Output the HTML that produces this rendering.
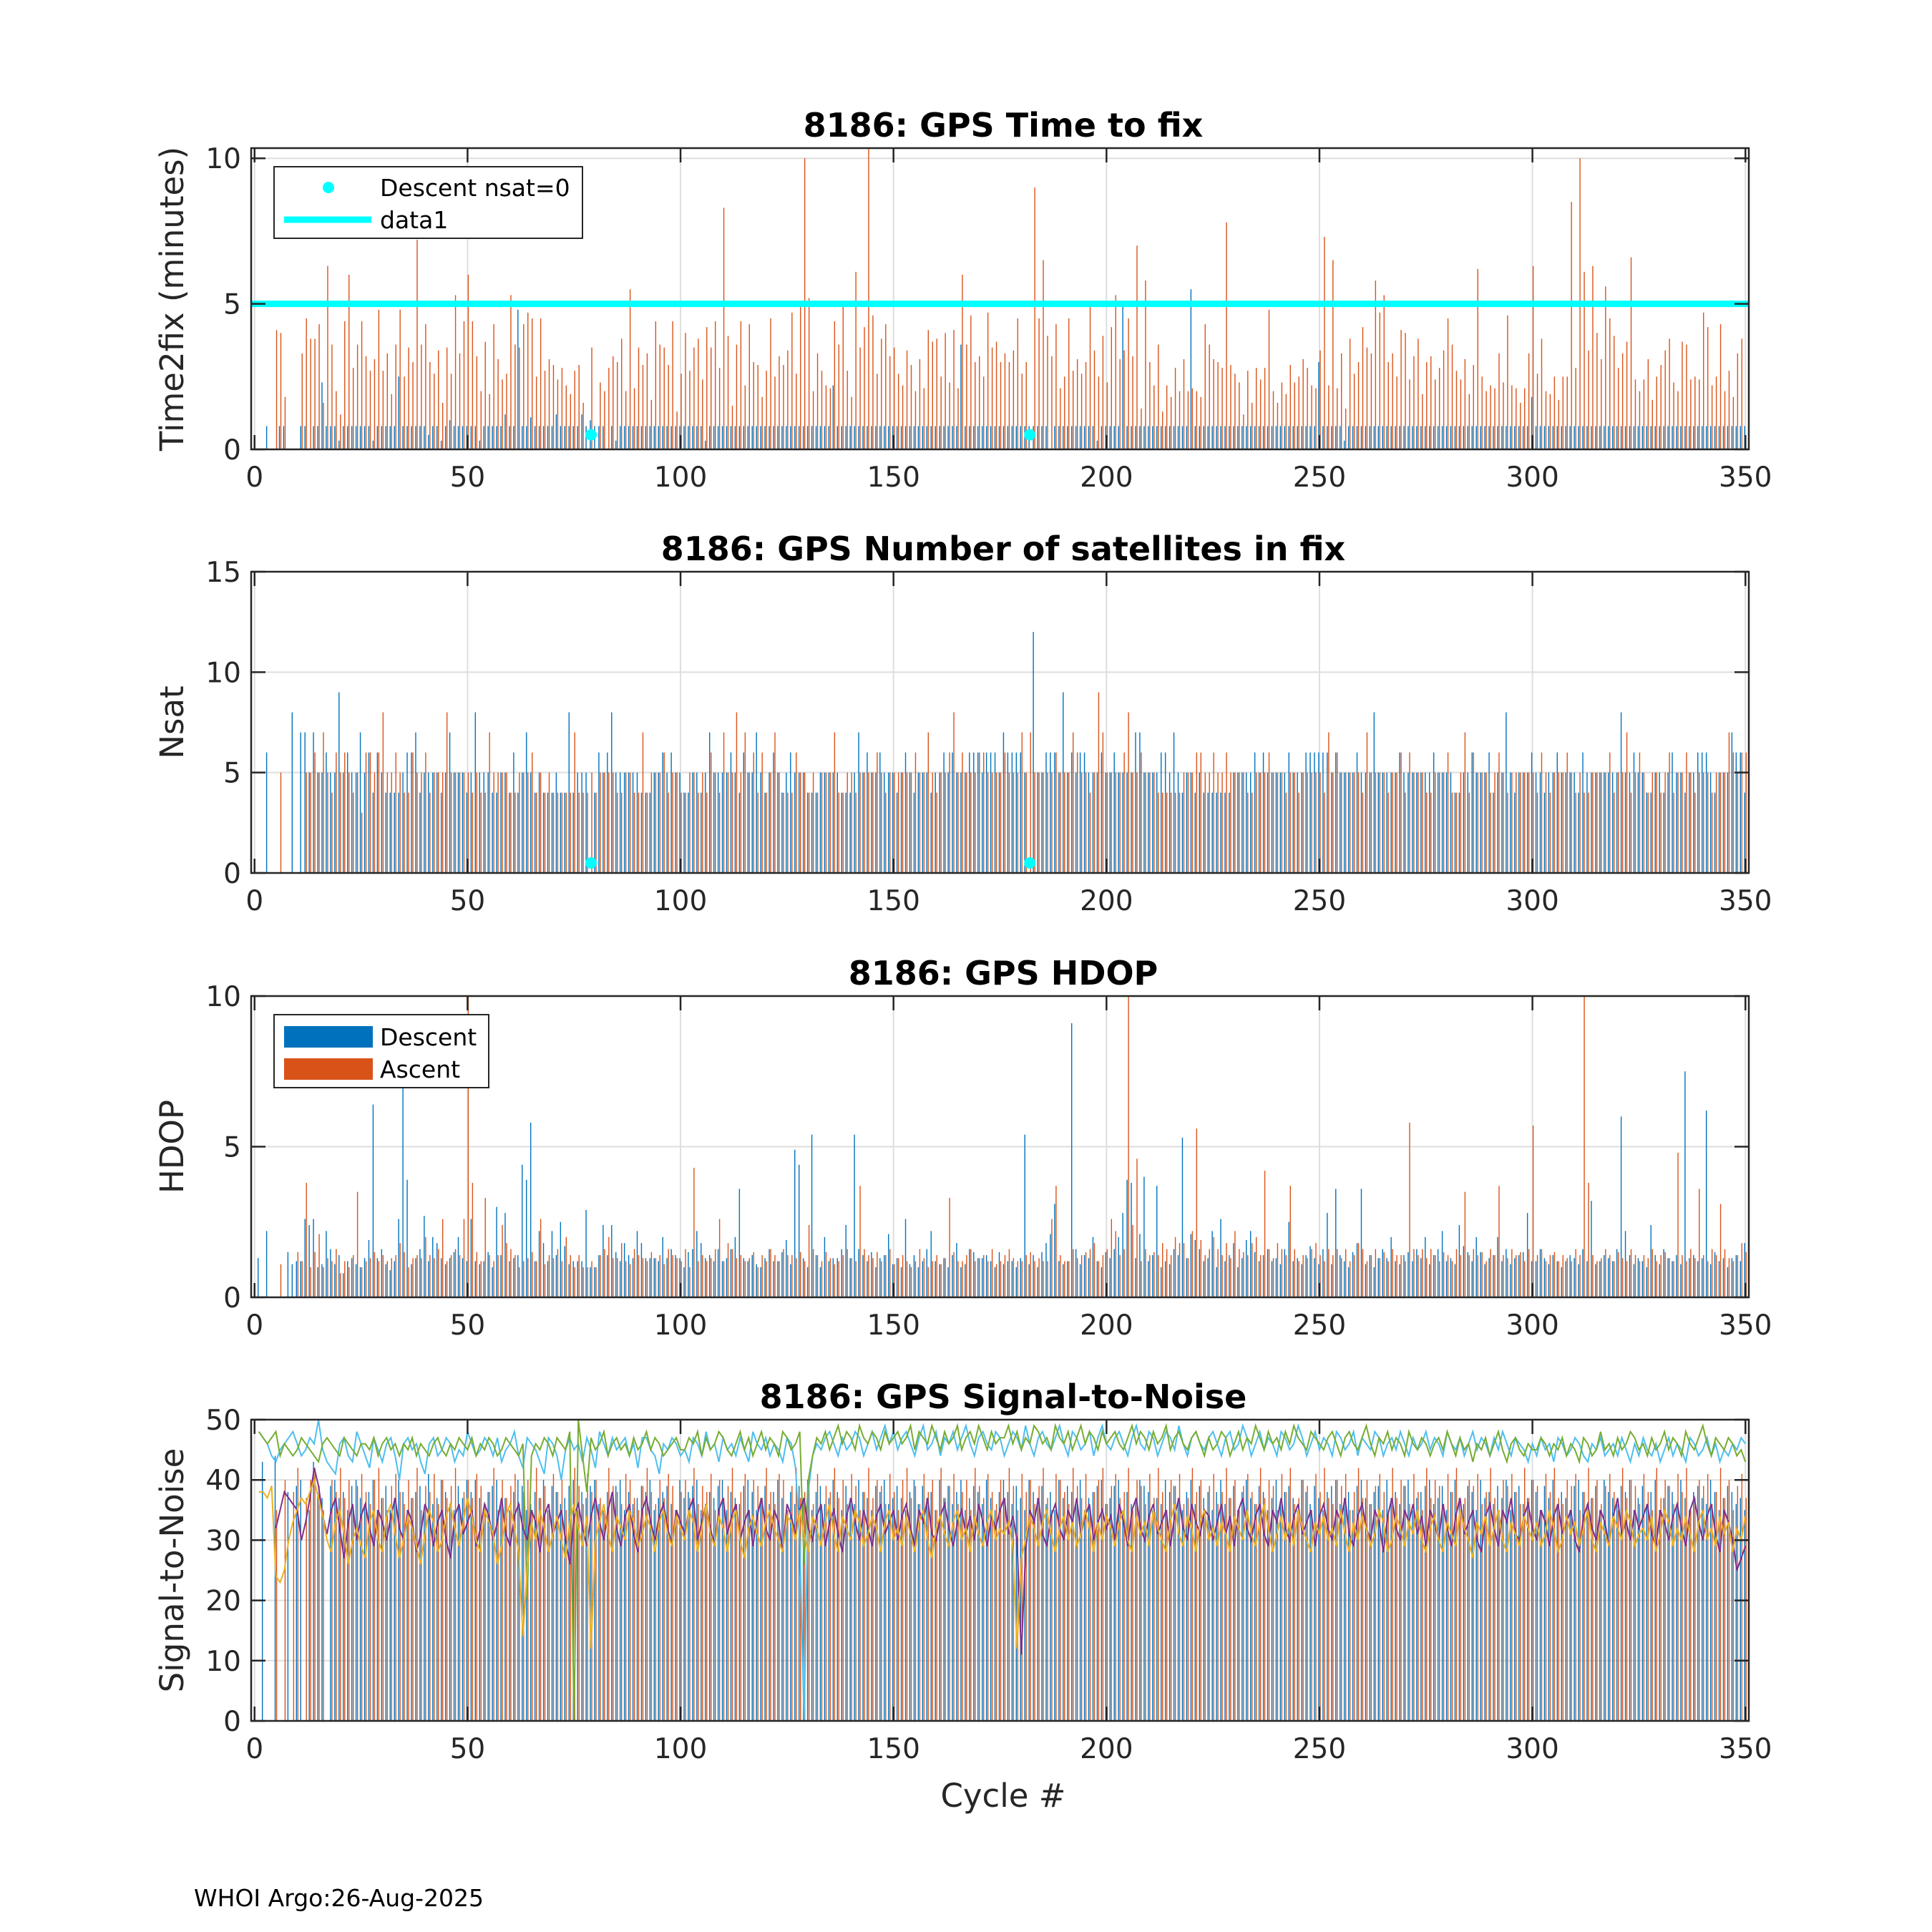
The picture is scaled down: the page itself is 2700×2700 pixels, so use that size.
<!DOCTYPE html>
<html><head><meta charset="utf-8"><title>8186 GPS</title>
<style>html,body{margin:0;padding:0;background:#fff}svg{display:block}text{font-family:"DejaVu Sans","Liberation Sans",sans-serif}</style>
</head><body>
<svg id="chart" width="2700" height="2700" viewBox="0 0 2700 2700" xmlns="http://www.w3.org/2000/svg">
<rect x="0" y="0" width="2700" height="2700" fill="#fff"/>
</svg>
<script>
const cycles = 350;
const xTicks = [0,50,100,150,200,250,300,350];
const t2fTicks = [0,5,10];
const nsatTicks = [0,5,10,15];
const hdopTicks = [0,5,10];
const snrTicks = [0,10,20,30,40,50];
const t2fLimit = [5];
const nsatZeroCycles = [79,182];
const nsatZeroValue = [0.5,0.5];

const t2fDesc = [0,0,0.8,0,0,0.8,0.8,0,0,0,0.8,0.8,0,0.8,0.8,2.3,0.8,0.8,0.8,0.3,0.8,0.8,0.8,0.8,0.8,
0.8,0.8,0.3,0.8,0.8,0.8,0.8,0.8,2.5,0.8,0.8,0.8,0.8,0.8,0.8,0.5,0.8,0.8,0.3,0.8,1.0,0.8,0.8,0.8,0.8,
0.8,0.8,0.3,0.8,0.8,0.8,0.8,0.8,1.2,0.8,0.8,4.8,0.8,0.8,1.1,0.8,0.8,0.8,0.8,0.8,1.2,0.8,0.8,0.8,0.8,
0.8,1.2,0.8,1.0,0.8,0.8,0.8,0,0.8,0.3,0.8,0.8,0.8,0.8,0.8,0.8,0.8,0.8,0.8,0.8,0.8,0.8,0.8,0.8,0.8,
0.8,0.8,0.8,0.8,0.8,0.3,0.8,0.8,0.8,0.8,0.8,0.8,0.8,0.8,0.8,0.8,0.8,0.8,0.8,0.8,0.8,0.8,0.8,0.8,0.8,
0.8,0.8,0.8,0.8,0.8,0.8,0.8,0.8,0.8,0.8,2.2,0.8,0.8,0.8,0.8,0.8,0.8,0.8,0.8,0.8,0.8,0.8,0.8,0.8,0.8,
0.8,0.8,0.8,0.8,0.8,0.8,0.8,0.8,0.8,0.8,0.8,0.8,0.8,0.8,0.8,3.6,0.8,0.8,0.8,0.8,0.8,0.8,0.8,0.8,0.8,
0.8,0.8,0.8,0.8,0.8,0.8,0.8,0.8,0.8,0.8,0.8,0,0.8,0.8,0.8,0.8,0.8,0.8,0.8,0.8,0.8,0.8,0.3,0.8,0.8,
0.8,0.8,0.8,5.0,0.8,0.8,0.8,0.8,0.8,0.8,0.8,0.8,0.8,0.8,0.8,0.8,0.8,0.8,0.8,5.5,0.8,0.8,0.8,0.8,0.8,
0.8,0.8,0.8,0.8,0.8,0.8,0.8,0.8,0.8,0.8,0.8,0.8,0.8,0.8,0.8,0.8,0.8,0.8,0.8,0.8,0.8,0.8,0.8,0.8,3.0,
0.8,0.8,0.8,0.8,0.8,0.3,0.8,0.8,0.8,0.8,0.8,0.8,0.8,0.8,0.8,0.8,0.8,0.8,0.8,0.8,0.8,0.8,0.8,0.8,0.8,
0.8,0.8,0.8,0.8,0.8,0.8,0.8,0.8,0.8,0.8,0.8,0.8,0.8,0.8,0.8,0.8,0.8,0.8,0.8,0.8,0.8,0.8,0.8,0.8,1.8,
0.8,0.8,0.8,0.8,0.8,0.8,0.8,0.8,0.8,0.8,0.8,0.8,0.8,0.8,0.8,0.8,0.8,0.8,0.8,0.8,0.8,0.8,0.8,0.8,0.8,
0.8,0.8,0.8,0.8,0.8,0.8,0.8,0.8,0.8,0.8,0.8,0.8,0.8,0.8,0.8,0.8,0.8,0.8,0.8,0.8,0.8,0.8,0.8,0.8,0.8];

const t2fAsc = [0,0,0,0,4.1,4.0,1.8,0,0,0,3.3,4.5,3.8,3.8,4.3,1.6,6.3,3.6,2.0,1.2,4.4,6.0,2.8,3.6,4.4,
3.2,2.7,3.1,4.8,2.7,3.3,1.9,3.6,4.8,2.5,3.5,3.0,7.2,3.6,4.3,3.0,2.6,3.4,1.6,3.5,2.6,5.3,3.3,4.4,6.0,
4.4,3.2,2.0,3.7,1.9,4.3,3.1,2.4,2.6,5.3,3.6,3.5,4.3,4.7,4.5,2.5,4.5,2.7,3.1,2.9,2.4,2.8,2.2,1.9,2.7,
2.9,1.6,0,3.5,0,2.3,2.0,2.8,3.2,3.0,3.8,2.0,5.5,2.1,3.5,2.9,3.3,1.7,4.4,3.6,3.5,2.9,4.4,1.3,2.6,
4.0,2.7,3.5,3.8,2.4,4.2,3.5,4.4,2.8,8.3,3.9,1.5,3.6,4.4,2.2,4.3,3.0,2.9,1.8,2.7,4.5,2.5,3.2,2.9,3.4,
4.7,2.6,4.9,10.0,5.2,2.0,3.3,2.7,2.2,2.1,4.4,3.6,5.0,2.7,1.8,6.1,3.5,4.2,10.4,4.6,2.6,3.8,4.3,3.2,3.5,
2.6,2.2,3.4,2.9,2.0,3.1,2.1,4.1,3.7,3.8,2.5,4.0,2.3,4.1,2.1,6.0,3.6,4.6,3.0,3.2,2.5,4.7,3.5,3.7,3.0,
3.3,3.0,3.4,4.5,2.6,3.0,0,9.0,4.5,6.5,3.9,3.2,4.3,2.1,2.5,4.5,2.7,3.1,2.6,3.0,5.1,3.4,2.5,3.9,2.3,
4.2,5.3,3.1,3.4,4.5,3.2,7.0,1.4,5.8,3.0,2.2,3.6,1.3,2.2,1.8,2.8,2.0,3.1,2.0,2.1,2.0,1.8,4.3,3.6,3.1,
3.0,2.8,7.8,2.9,2.6,2.3,1.2,2.7,1.6,2.8,2.4,2.8,4.8,2.0,1.6,2.3,1.9,2.9,2.3,2.5,3.1,2.8,2.2,2.1,3.4,
7.3,2.2,6.5,2.1,3.3,1.4,3.8,2.6,3.0,4.2,3.5,3.3,5.8,4.7,5.3,3.0,3.3,2.5,4.1,4.0,2.4,3.2,3.8,1.9,3.0,
3.2,2.4,2.8,3.4,4.5,3.6,2.7,2.4,3.1,1.9,2.9,6.2,2.5,2.0,2.2,2.1,3.3,2.3,4.6,2.2,2.1,1.6,2.1,3.3,6.3,
2.6,3.8,2.0,1.9,2.5,1.7,2.5,2.5,8.5,2.8,10.0,6.1,3.4,6.3,4.0,3.1,5.6,4.5,3.9,2.8,3.3,3.7,6.6,2.4,2.0,
2.4,3.1,1.7,2.5,2.9,3.4,3.8,2.3,2.0,3.7,3.6,2.4,2.5,2.4,4.7,4.2,2.2,2.5,4.3,2.0,2.7,1.8,3.3,3.8,0];

const nsatDesc = [0,0,6,0,0,0,0,0,8,0,7,7,5,7,5,5,6,5,5,9,5,6,5,5,7,
5,6,4,6,5,4,4,4,4,5,6,6,7,4,5,5,5,5,4,5,7,5,5,5,4,
5,8,5,5,5,4,4,5,5,4,6,4,5,7,5,4,5,4,4,4,5,4,4,8,4,
5,5,5,0,4,6,5,6,8,5,5,5,5,5,5,4,4,4,5,5,6,5,6,5,5,
4,4,5,5,4,5,7,5,5,5,5,6,5,4,6,5,5,7,5,4,5,6,5,4,5,
6,5,5,5,4,4,4,5,5,5,5,5,4,4,4,5,7,5,6,5,5,6,5,5,5,
4,5,6,5,4,5,5,5,4,5,5,6,5,6,5,5,5,6,6,6,5,6,6,6,5,
7,6,6,6,6,5,0,12,5,5,6,6,6,5,9,5,6,5,6,6,5,5,5,6,5,
5,6,5,5,5,5,7,7,5,5,5,5,6,6,5,7,5,4,5,5,4,5,4,4,4,
4,4,4,4,5,5,5,5,5,6,5,6,5,5,5,5,5,6,5,5,5,6,6,6,6,
6,6,5,6,5,5,5,5,6,5,5,5,8,5,5,5,5,5,6,5,5,5,5,5,5,
5,6,5,5,5,5,4,4,5,5,6,5,5,5,6,4,5,5,8,5,4,5,5,5,6,
5,5,4,5,5,6,5,5,5,5,4,6,5,5,5,5,5,5,5,5,8,5,5,6,5,
5,4,4,5,5,4,5,6,5,5,4,5,5,6,6,6,5,4,5,5,5,7,6,6,4];

const nsatAsc = [0,0,0,0,0,5,0,0,0,0,0,5,5,6,5,7,5,4,6,5,6,5,4,5,3,
6,6,5,6,8,5,5,6,5,4,4,6,5,5,6,4,5,5,5,8,5,5,5,5,5,
4,5,4,4,7,5,5,5,5,4,4,5,5,5,6,4,5,4,5,4,4,4,4,4,7,
4,4,4,5,4,5,5,5,5,4,4,5,5,4,4,7,4,5,5,5,6,4,5,5,4,
4,5,5,4,5,4,6,5,4,7,5,5,8,5,7,5,6,4,6,4,5,7,5,4,4,
4,6,5,5,4,5,4,5,5,5,7,4,4,5,5,4,5,5,5,5,6,5,4,5,5,
5,5,5,5,6,5,5,7,5,4,5,5,6,8,5,6,5,5,5,6,6,5,5,5,5,
6,5,5,5,7,5,7,5,5,5,5,5,6,5,5,5,7,6,5,5,4,5,9,7,5,
5,5,5,6,8,5,5,6,5,5,5,4,4,4,4,4,4,5,5,5,6,6,5,5,6,
5,5,6,5,5,5,5,4,4,5,5,5,6,5,5,5,4,5,5,4,5,5,5,5,5,
4,7,5,6,5,5,5,5,5,4,7,5,5,5,5,4,5,5,6,4,6,5,5,5,4,
4,5,5,5,6,4,4,5,7,4,6,5,5,5,4,5,6,5,4,5,5,5,5,5,5,
4,6,5,4,5,5,5,6,5,4,5,4,4,5,5,5,5,6,4,5,5,7,4,5,6,
5,4,5,5,4,5,6,4,5,5,6,5,4,5,5,5,4,5,5,5,7,6,5,6,6];

const hdopDesc = [1.3,0,2.2,0,0,0,0,1.5,1.1,1.2,1.2,2.6,2.4,2.6,1.0,1.1,2.2,1.6,1.1,1.4,0.8,1.2,1.3,1.1,1.0,
1.3,1.9,6.4,1.3,1.6,1.1,0.9,1.2,2.6,7.0,3.9,1.1,1.3,1.6,2.7,1.2,2.0,1.8,1.3,1.1,1.3,1.5,2.0,1.3,1.2,
2.6,1.2,1.1,1.2,1.5,1.0,3.0,1.4,2.8,1.2,1.3,1.4,4.4,3.9,5.8,1.2,2.2,1.8,1.2,2.2,1.4,2.5,1.7,1.1,1.2,
1.2,1.2,2.9,1.0,1.0,1.4,2.4,1.4,2.4,1.5,1.2,1.8,1.4,1.3,2.2,1.8,1.3,1.3,1.3,1.2,2.0,1.3,1.6,1.4,1.3,
1.0,1.5,1.6,2.2,1.8,1.3,1.4,1.2,1.6,1.2,1.3,1.6,2.0,3.6,1.3,1.2,1.4,1.1,1.0,1.3,1.6,1.2,1.2,1.5,1.9,
1.1,4.9,4.4,1.3,1.0,5.4,1.4,1.0,2.0,1.2,1.3,1.3,1.6,2.4,1.3,5.4,1.6,1.4,1.2,1.5,1.0,1.3,1.4,2.1,1.1,
1.3,1.0,2.6,1.1,1.4,1.0,1.2,1.6,2.2,1.2,1.1,1.3,1.0,1.4,1.8,1.0,1.1,1.6,1.5,1.3,1.3,1.4,1.2,1.0,1.5,
1.1,1.2,1.2,1.0,1.3,5.4,1.1,1.4,1.0,1.5,1.8,2.1,3.1,1.2,1.1,1.2,9.1,1.6,1.1,1.4,1.3,2.0,1.2,1.0,1.5,
1.3,1.6,2.0,2.8,3.9,3.8,1.3,2.1,4.0,1.2,1.4,3.7,1.0,1.2,1.1,1.6,1.4,5.3,1.3,2.1,1.9,1.6,1.2,1.3,2.2,
1.0,2.6,1.2,1.4,1.8,1.0,1.3,1.9,2.2,1.5,1.2,1.4,1.6,1.2,1.3,1.1,1.6,2.5,1.2,1.3,1.1,1.4,1.7,1.3,1.1,
1.6,2.8,1.1,3.6,1.4,1.2,1.0,1.5,1.8,3.6,1.1,1.4,1.0,1.3,1.6,1.3,2.0,1.2,1.1,1.4,1.5,1.2,1.6,1.3,2.0,
1.1,1.4,1.6,2.2,1.2,1.3,1.1,2.4,1.7,1.5,1.2,2.0,1.5,1.1,1.3,1.4,2.0,1.2,1.6,1.1,1.3,1.4,1.5,2.8,1.2,
1.2,1.6,1.3,1.1,1.4,1.2,1.0,1.2,1.4,1.3,1.1,1.6,1.2,3.2,1.1,1.2,1.4,1.3,1.2,1.6,6.0,2.2,1.4,1.1,1.3,
1.2,1.0,2.4,1.4,1.1,1.6,1.3,1.2,1.4,1.1,7.5,1.3,1.4,1.2,1.3,6.2,1.1,1.5,1.2,1.3,1.0,1.3,1.4,1.2,1.8];

const hdopAsc = [0,0,0,0,0,1.1,0,0,0,1.5,1.2,3.8,1.0,1.5,2.1,1.0,1.3,1.2,1.6,0.8,1.2,1.0,1.4,3.5,1.0,
1.2,1.3,1.5,1.2,1.4,1.2,1.3,1.4,1.8,1.5,1.0,1.3,1.4,1.3,2.0,1.4,1.3,1.6,2.6,1.2,1.4,1.6,1.4,2.6,10.0,
3.8,1.5,1.2,3.3,1.4,1.2,1.4,2.4,1.8,1.6,1.4,1.0,1.2,1.3,1.5,1.2,2.6,1.1,1.4,1.3,1.6,1.2,2.0,1.4,1.0,
1.4,1.0,1.0,1.2,1.0,1.4,1.6,2.0,1.3,1.3,1.8,1.2,1.1,1.6,1.4,1.3,1.2,1.5,1.3,1.4,1.1,1.6,1.4,1.3,1.2,
1.6,1.0,4.3,1.2,1.4,1.2,1.3,1.6,2.6,1.2,1.8,1.6,1.3,1.4,1.2,1.3,1.5,1.0,1.4,1.2,1.6,1.4,1.2,1.6,1.4,
1.4,1.3,1.5,1.2,2.4,1.6,1.4,1.2,1.5,1.3,1.1,1.2,1.4,1.6,1.3,1.2,3.7,1.6,1.4,1.3,1.5,1.2,1.4,1.6,1.1,
1.3,1.4,1.2,1.0,1.2,1.6,1.3,1.0,1.2,1.4,1.1,1.3,3.3,1.5,1.2,1.2,1.4,1.6,1.2,1.3,1.4,1.2,1.6,1.1,1.2,
1.4,1.6,1.3,1.2,1.2,1.4,1.5,1.2,1.3,1.2,1.2,2.6,3.7,1.4,1.2,1.2,1.6,1.3,1.4,1.5,1.6,1.8,1.2,1.4,1.6,
2.6,2.2,1.4,1.6,10.0,2.4,4.6,1.2,1.6,1.4,1.5,1.4,1.8,1.6,1.4,2.0,1.8,1.8,1.3,2.2,5.6,1.9,1.4,1.6,2.0,
1.6,1.4,1.8,1.3,2.2,1.6,1.5,1.4,1.8,2.0,1.4,4.2,1.6,1.3,1.8,1.6,1.4,3.7,1.6,1.2,1.4,1.3,1.6,1.8,1.4,
1.2,1.6,1.4,1.6,1.3,1.6,1.2,1.4,1.8,1.6,1.2,1.4,1.6,1.3,1.5,1.2,1.6,1.4,1.4,1.2,5.8,1.6,1.4,1.6,1.3,
1.6,1.4,1.2,1.5,1.4,1.2,1.6,1.4,3.5,1.4,1.6,1.4,1.5,1.2,1.6,1.4,3.7,1.4,1.3,1.6,1.4,1.5,1.2,1.6,5.7,
1.4,1.6,1.2,1.4,1.5,1.2,1.4,1.3,1.2,1.6,1.4,10.0,3.8,1.4,1.2,1.3,1.6,1.4,1.2,1.5,1.3,1.2,1.6,1.4,1.2,
1.4,1.3,1.6,1.2,1.4,1.5,1.3,1.2,4.8,1.4,1.2,1.6,1.3,3.6,1.4,1.2,1.6,1.4,3.1,1.6,1.3,1.2,1.4,1.8,1.5];

const snrDesc = [0,43,0,0,44,0,0,38,0,39,40,0,35,43,38,37,0,39,40,37,38,35,39,40,37,
36,38,40,35,37,39,35,37,40,38,35,37,38,39,35,41,36,37,40,38,36,35,39,37,40,
38,40,37,35,38,39,40,36,37,35,38,40,39,35,36,38,37,40,35,39,38,36,37,39,40,
35,38,37,39,40,36,35,38,37,39,40,35,38,36,37,39,38,40,35,37,38,39,36,35,40,
37,38,39,40,35,36,38,37,39,40,35,38,37,36,39,40,38,35,37,39,36,38,40,37,35,
38,36,39,37,40,35,38,39,36,37,40,38,35,39,37,36,40,38,37,35,39,38,40,36,37,
39,37,35,38,40,36,39,37,38,35,40,37,39,36,38,40,35,37,39,38,36,40,37,35,38,
40,38,36,39,37,35,40,38,37,39,36,38,35,40,37,39,38,36,40,35,37,38,39,40,36,
37,39,40,35,38,36,37,40,39,38,35,37,36,40,38,39,37,35,38,40,36,39,37,38,35,
38,40,36,37,39,35,38,40,37,36,39,38,35,37,40,36,38,39,37,35,40,38,36,39,37,
35,38,39,40,36,37,38,35,39,40,37,36,38,39,35,40,37,38,36,39,40,35,37,38,39,
40,36,37,39,35,38,40,37,36,39,38,35,40,37,38,36,39,37,40,35,38,39,36,37,40,
38,35,39,37,40,36,38,37,35,39,40,38,36,37,39,35,40,38,37,36,39,38,40,35,37,
39,36,38,40,35,37,39,38,36,40,37,35,38,39,37,36,40,38,35,37,39,38,36,37,35];

const snrAsc = [0,0,0,0,35,0,40,0,38,42,0,37,40,42,39,35,0,40,38,42,37,40,35,39,41,
38,36,40,42,37,35,39,41,38,36,40,37,42,35,39,38,41,36,40,37,39,42,35,38,40,
37,41,39,36,38,42,35,40,37,39,41,36,38,40,35,42,37,39,36,41,38,40,35,37,42,
39,36,41,38,40,37,35,42,39,38,36,41,40,37,35,39,42,38,36,40,37,41,39,35,38,
40,37,42,36,39,38,41,35,40,37,39,42,36,38,41,35,40,39,37,42,38,36,41,40,35,
39,42,37,38,40,36,41,35,39,38,42,37,40,36,41,39,35,38,42,37,40,39,36,41,38,
35,40,42,37,39,36,41,38,40,35,42,37,39,41,36,38,40,35,42,39,37,41,38,36,40,
37,42,39,35,41,38,40,36,39,42,37,35,41,40,38,36,42,39,37,41,35,38,40,42,36,
39,41,37,38,42,35,40,39,36,41,37,42,38,35,40,39,41,36,37,42,38,40,35,39,41,
36,38,42,37,40,35,39,41,38,36,42,37,40,39,35,41,38,42,36,37,40,39,35,41,38,
42,37,36,40,39,41,35,38,42,37,40,36,39,41,38,35,42,37,40,39,36,41,38,35,42,
37,40,39,36,41,38,42,35,37,40,39,41,36,38,42,37,35,40,39,41,38,36,42,37,40,
39,35,41,38,42,37,36,40,39,41,35,38,42,37,40,36,39,41,38,35,42,37,40,39,36,
41,38,35,42,37,40,39,36,41,38,42,35,37,40,39,41,36,38,42,37,40,35,39,41,37];

const snrCyan = [48,47,46,44,43,45,46,47,48,46,44,45,47,46,50,45,43,42,41,46,47,44,43,48,46,
44,42,47,45,43,46,47,44,40,46,47,45,46,43,41,46,47,44,45,47,46,43,45,44,48,
46,44,45,47,46,44,47,43,45,46,48,44,42,47,46,45,43,41,47,46,44,40,45,47,45,
46,43,47,45,42,48,46,44,47,45,46,47,44,46,42,47,47,45,44,41,46,45,47,46,44,
45,43,47,46,44,48,45,46,43,47,45,46,44,47,45,43,48,46,45,47,44,46,45,43,47,
46,42,30,0,38,44,46,45,47,48,46,44,47,45,46,48,47,44,46,48,45,47,49,46,48,
45,47,48,46,44,47,49,45,46,48,44,47,46,48,45,47,49,46,44,47,48,46,45,48,47,
44,46,48,47,45,49,46,44,47,48,46,45,47,49,46,44,48,47,45,46,48,44,47,49,46,
45,47,48,46,44,47,49,46,45,48,47,44,46,48,47,45,49,46,44,47,48,46,45,47,48,
46,44,47,48,45,46,49,47,44,46,48,45,47,46,44,48,47,45,46,49,47,44,46,48,45,
47,46,44,48,47,45,46,48,44,47,46,45,48,47,44,46,47,45,48,46,44,47,45,46,48,
45,47,46,44,48,46,45,47,44,46,48,45,47,46,44,47,45,48,46,44,47,46,45,43,46,
44,47,45,46,43,47,46,44,45,47,46,44,43,46,45,47,44,45,46,44,47,45,43,46,44,
47,45,44,46,43,45,47,44,46,45,43,47,46,44,45,47,44,46,43,45,44,46,45,47,46];

const snrGreen = [48,47,46,47,48,44,46,45,44,45,47,46,45,44,43,46,47,46,45,44,47,46,45,44,46,
46,45,47,44,46,47,45,46,44,46,45,47,44,46,45,44,46,47,45,44,46,45,47,46,45,
47,44,46,45,47,46,44,45,47,46,45,44,46,20,44,46,45,47,46,44,47,46,45,48,0,
50,44,38,47,45,46,48,44,46,47,45,46,44,47,45,46,48,45,47,46,44,45,46,47,45,
45,47,46,48,44,47,45,46,48,47,45,44,46,48,45,47,44,46,48,45,47,46,44,48,47,
45,46,48,26,40,44,47,46,48,45,47,49,46,48,47,45,49,47,46,48,47,45,48,46,47,
48,46,47,49,45,48,47,46,49,47,45,48,46,47,49,45,47,48,46,49,47,45,48,46,47,
47,49,46,48,45,47,46,49,48,46,47,45,49,47,46,48,45,47,49,46,48,47,45,48,46,
47,48,46,45,47,49,46,48,47,45,48,46,47,49,45,47,48,46,45,47,48,46,44,47,45,
46,48,47,44,46,48,45,47,46,49,47,45,48,46,47,45,48,46,49,47,46,45,48,47,46,
45,47,48,46,44,47,48,46,45,47,49,46,44,47,46,48,45,47,46,44,48,46,45,47,46,
44,46,47,45,48,46,44,47,45,46,43,46,45,47,44,46,48,45,43,46,47,45,44,46,45,
45,47,46,44,46,45,47,44,46,45,43,47,46,44,45,48,45,46,44,47,45,46,48,47,45,
46,44,47,45,46,48,45,47,46,44,48,46,45,47,49,46,44,47,46,45,47,46,44,45,43];

const snrPurple = [0,0,0,0,32,35,38,37,36,35,30,33,37,42,39,34,31,35,37,32,27,33,36,30,34,
36,32,29,35,33,30,34,37,32,30,35,33,28,31,36,34,29,33,35,30,27,34,36,31,33,
35,29,32,36,34,30,33,37,31,29,34,36,32,30,35,33,28,34,36,31,33,35,30,26,34,
36,32,29,34,37,33,30,35,38,32,29,34,36,31,28,35,37,33,30,34,36,32,29,35,33,
31,35,37,30,33,36,32,29,35,37,31,34,36,30,33,35,29,34,37,32,30,35,33,28,36,
34,31,35,37,32,30,34,36,29,33,35,31,28,34,37,33,30,35,32,29,34,36,31,33,35,
30,34,36,32,29,35,33,37,31,30,34,36,32,29,33,35,31,34,30,36,33,29,34,32,35,
37,31,34,30,11,28,35,33,37,31,29,34,36,32,30,35,33,37,31,34,36,30,33,35,32,
34,30,36,33,29,35,37,32,30,34,36,31,33,35,29,34,37,32,30,36,33,31,35,34,30,
33,36,31,34,29,35,37,32,30,34,36,31,29,35,33,37,32,30,34,36,31,33,35,29,34,
36,32,30,35,33,37,31,29,34,36,32,30,35,33,28,34,37,32,30,35,33,36,31,34,29,
35,33,30,36,32,29,34,37,31,33,35,30,28,34,36,32,29,35,33,37,31,30,34,36,32,
30,35,33,29,34,36,31,33,35,30,28,34,36,32,30,35,33,29,34,37,31,33,30,35,32,
34,36,31,29,35,33,30,34,36,32,29,35,37,33,30,34,36,31,28,35,33,30,25,27,29];

const snrYellow = [38,38,37,39,24,23,25,30,33,35,37,36,38,40,37,34,30,28,33,35,31,26,30,32,29,
27,33,35,30,28,34,36,31,27,30,34,32,29,26,31,35,33,28,30,34,36,32,29,33,37,
34,30,28,35,33,31,26,29,34,36,32,28,14,25,33,30,35,32,28,31,34,30,27,33,36,
32,29,34,12,30,33,36,31,28,34,32,30,35,33,29,31,34,32,28,33,35,31,29,34,32,
30,35,33,28,32,36,31,29,34,32,28,33,35,30,27,32,34,31,29,33,35,32,30,28,34,
33,30,35,31,28,34,32,29,33,36,31,28,34,32,30,35,33,29,31,34,32,28,33,35,30,
32,29,34,31,28,33,35,30,27,32,34,31,29,33,35,30,32,28,34,31,29,33,35,30,32,
31,33,29,12,27,30,34,32,29,33,35,31,28,32,34,30,33,29,31,35,32,28,33,30,34,
32,29,33,35,30,28,34,31,33,29,35,32,30,28,33,36,31,29,34,32,28,33,35,30,32,
29,33,31,28,34,32,30,35,31,29,33,36,32,28,31,34,30,33,29,35,32,30,28,33,31,
34,30,32,29,35,31,28,33,30,34,32,29,31,35,33,28,30,34,32,29,33,31,35,30,28,
32,34,30,28,33,31,29,35,32,30,27,33,31,34,29,32,35,30,28,33,31,29,34,32,30,
33,29,31,35,32,28,30,34,31,33,29,32,35,30,28,33,31,29,34,32,30,35,33,29,31,
32,30,34,28,31,35,33,29,32,30,34,31,28,33,35,30,32,29,34,31,33,28,32,30,34];

const NS = 'http://www.w3.org/2000/svg';
const svg = document.getElementById('chart');
const X0 = 351, X1 = 2444, XMIN = -0.8, XMAX = 350.8;
const BW = 1.4;
function xs(v){ return X0 + (v - XMIN) / (XMAX - XMIN) * (X1 - X0); }
function mk(tag, attrs, parent){ const e = document.createElementNS(NS, tag); for (const k in attrs) e.setAttribute(k, attrs[k]); (parent||svg).appendChild(e); return e; }

const panels = [
 {key:'time-to-fix', top:207, bot:628, ymax:10.35, ticks:t2fTicks, title:'8186: GPS Time to fix', ylabel:'Time2fix (minutes)', desc:t2fDesc, asc:t2fAsc},
 {key:'nsat', top:799, bot:1220, ymax:15, ticks:nsatTicks, title:'8186: GPS Number of satellites in fix', ylabel:'Nsat', desc:nsatDesc, asc:nsatAsc},
 {key:'hdop', top:1392, bot:1813, ymax:10, ticks:hdopTicks, title:'8186: GPS HDOP', ylabel:'HDOP', desc:hdopDesc, asc:hdopAsc},
 {key:'snr', top:1984, bot:2405, ymax:50, ticks:snrTicks, title:'8186: GPS Signal-to-Noise', ylabel:'Signal-to-Noise', desc:snrDesc, asc:snrAsc}
];

panels.forEach(function(p){
  const g = mk('g', {});
  
  
  const ys = function(v){ return p.bot - v / p.ymax * (p.bot - p.top); };
  p.ys = ys; p.g = g;
  xTicks.forEach(function(t){
    const l = mk('line', {x1:xs(t), x2:xs(t), y1:p.top, y2:p.bot, stroke:'#dedede', 'stroke-width':2}, g);
    
    
  });
  p.ticks.forEach(function(t){
    const l = mk('line', {x1:X0, x2:X1, y1:ys(t), y2:ys(t), stroke:'#dedede', 'stroke-width':2}, g);
    
    
  });
  for (let i = 0; i < p.desc.length; i++) {
    const v = p.desc[i]; if (!v) continue;
    const r = mk('rect', {x:xs(i+1-0.17)-BW/2, y:ys(Math.min(v,p.ymax)), width:BW, height:p.bot-ys(Math.min(v,p.ymax)), fill:'#0072BD'}, g);
    
    
  }
  for (let i = 0; i < p.asc.length; i++) {
    const v = p.asc[i]; if (!v) continue;
    const r = mk('rect', {x:xs(i+1+0.17)-BW/2, y:ys(Math.min(v,p.ymax)), width:BW, height:p.bot-ys(Math.min(v,p.ymax)), fill:'#D95319'}, g);
    
    
  }
});

(function(){
  const p = panels[0];
  const l = mk('line', {x1:X0, x2:X1, y1:p.ys(t2fLimit[0]), y2:p.ys(t2fLimit[0]), stroke:'#00FFFF', 'stroke-width':9}, p.g);
  
  
  [panels[0], panels[1]].forEach(function(q){
    nsatZeroCycles.forEach(function(c, k){
      const d = mk('circle', {cx:xs(c), cy:q.ys(nsatZeroValue[k]), r:8, fill:'#00FFFF'}, q.g);
      
      
    });
  });
})();

(function(){
  const p = panels[3];
  const series = [[snrCyan,'#4DBEEE','snr-line-cyan'],[snrGreen,'#77AC30','snr-line-green'],[snrPurple,'#7E2F8E','snr-line-purple'],[snrYellow,'#EDB120','snr-line-yellow']];
  series.forEach(function(s){
    let pts = [];
    s[0].forEach(function(v,i){ if (v || s[0] === snrCyan || s[0] === snrGreen) pts.push(xs(i+1).toFixed(1)+','+p.ys(v).toFixed(1)); });
    const pl = mk('polyline', {points:pts.join(' '), fill:'none', stroke:s[1], 'stroke-width':2, 'stroke-linejoin':'miter'}, p.g);
    
    
  });
})();

panels.forEach(function(p){
  const fr = mk('rect', {x:X0, y:p.top, width:X1-X0, height:p.bot-p.top, fill:'none', stroke:'#262626', 'stroke-width':2.5});
  
  
  xTicks.forEach(function(t){
    const a = mk('line', {x1:xs(t), x2:xs(t), y1:p.bot, y2:p.bot-20, stroke:'#262626', 'stroke-width':2.5});
    
    
    const b = mk('line', {x1:xs(t), x2:xs(t), y1:p.top, y2:p.top+20, stroke:'#262626', 'stroke-width':2.5});
    
    
    const tx = mk('text', {x:xs(t), y:p.bot+52, 'font-size':39, 'text-anchor':'middle', style:'fill:#262626'});
    tx.textContent = t;
    
    
  });
  p.ticks.forEach(function(t){
    const y = p.ys(t);
    const a = mk('line', {x1:X0, x2:X0+20, y1:y, y2:y, stroke:'#262626', 'stroke-width':2.5});
    
    
    const b = mk('line', {x1:X1, x2:X1-20, y1:y, y2:y, stroke:'#262626', 'stroke-width':2.5});
    
    
    const tx = mk('text', {x:X0-14, y:y+14, 'font-size':39, 'text-anchor':'end', style:'fill:#262626'});
    tx.textContent = t;
    
    
  });
  const ti = mk('text', {x:1402, y:p.top-16, 'font-size':46, 'font-weight':'bold', 'text-anchor':'middle', style:'fill:#000'});
  ti.textContent = p.title;
  
  
  const cy = (p.top + p.bot) / 2;
  const yl = mk('text', {x:0, y:0, 'font-size':45, 'text-anchor':'middle', transform:'translate(256,'+cy+') rotate(-90)', style:'fill:#262626'});
  yl.textContent = p.ylabel;
  
  
});

const xl = mk('text', {x:1402, y:2525, 'font-size':45, 'text-anchor':'middle', style:'fill:#262626'});
xl.textContent = 'Cycle #';


const ft = mk('text', {x:271, y:2664, 'font-size':33, style:'fill:#000'});
ft.textContent = 'WHOI Argo:26-Aug-2025';



const lg1 = mk('g', {});


mk('rect', {x:383, y:233, width:431, height:100, fill:'#fff', stroke:'#262626', 'stroke-width':2}, lg1);
const ld = mk('circle', {cx:459, cy:262, r:8, fill:'#00FFFF'}, lg1);


const lt1 = mk('text', {x:531, y:274, 'font-size':33, style:'fill:#000'}, lg1);
lt1.textContent = 'Descent nsat=0';


const ll = mk('line', {x1:397, x2:519, y1:307, y2:307, stroke:'#00FFFF', 'stroke-width':9}, lg1);


const lt2 = mk('text', {x:531, y:319, 'font-size':33, style:'fill:#000'}, lg1);
lt2.textContent = 'data1';



const lg3 = mk('g', {});


mk('rect', {x:383, y:1418, width:300, height:102, fill:'#fff', stroke:'#262626', 'stroke-width':2}, lg3);
const pb = mk('rect', {x:397, y:1434, width:124, height:30, fill:'#0072BD'}, lg3);


const tb = mk('text', {x:531, y:1461, 'font-size':33, style:'fill:#000'}, lg3);
tb.textContent = 'Descent';


const po = mk('rect', {x:397, y:1479, width:124, height:30, fill:'#D95319'}, lg3);


const to = mk('text', {x:531, y:1506, 'font-size':33, style:'fill:#000'}, lg3);
to.textContent = 'Ascent';


</script>
</body></html>
